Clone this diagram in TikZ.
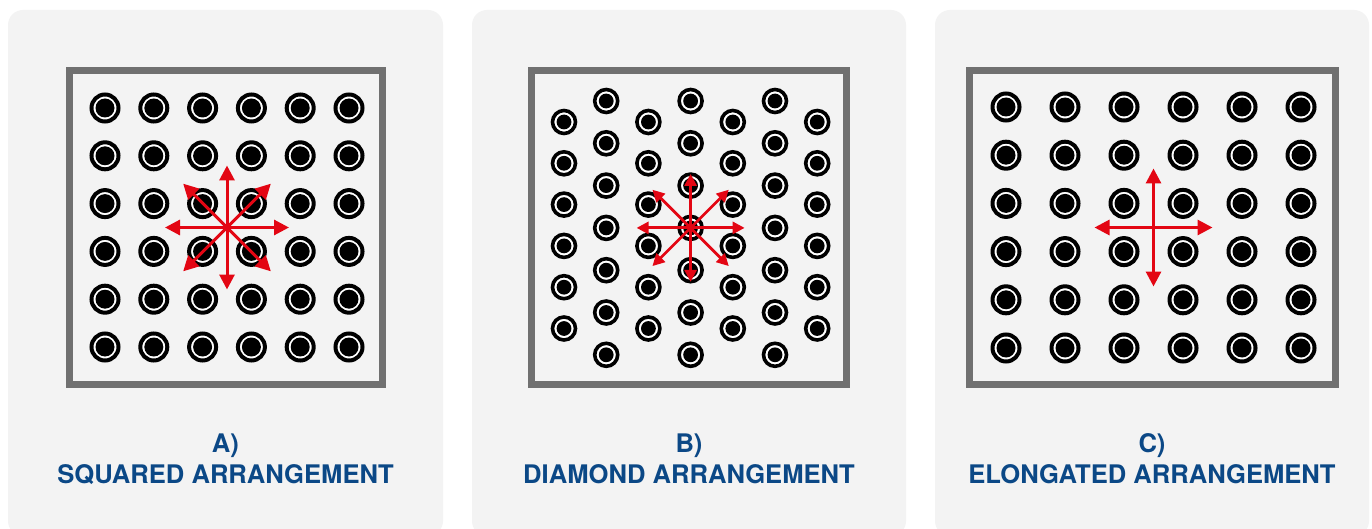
\documentclass[tikz,border=0pt]{standalone}
\usepackage{fontspec}
\setmainfont{TeX Gyre Heros}
\usepackage{xcolor}
\usetikzlibrary{arrows.meta,calc,positioning}

\definecolor{panelgray}{HTML}{F3F3F3}
\definecolor{framegray}{HTML}{707070}
\definecolor{flowred}{HTML}{E30613}
\definecolor{labelblue}{HTML}{0B4886}

\tikzset{
  panel/.style={fill=panelgray, rounded corners=15pt},
  frame/.style={draw=framegray, line width=6.5pt},
  hole/.style={circle, draw=black, line width=4pt, fill=white, inner sep=0pt,
    minimum size=27pt,
    path picture={\fill[black] (path picture bounding box.center) circle (9.5pt);}},
  smallhole/.style={circle, draw=black, line width=3.6pt, fill=white, inner sep=0pt,
    minimum size=23pt,
    path picture={\fill[black] (path picture bounding box.center) circle (7.4pt);}},
  flow/.style={draw=flowred, line width=3pt, -{Triangle[length=15pt,width=15pt]}},
  smallflow/.style={draw=flowred, line width=2.8pt, -{Triangle[length=12pt,width=12pt]}},
  lbl/.style={text=labelblue, font=\bfseries\fontsize{25.6}{30}\selectfont,
    anchor=base, inner sep=0pt}
}

\begin{document}
\begin{tikzpicture}[x=1pt, y=-1pt]
\useasboundingbox[fill=white] (0,0) rectangle (1372,529);

% Panels
\begin{scope}
\clip (0,0) rectangle (1372,529);
\fill[panel] (8,10) rectangle (443,536);
\fill[panel] (472,10) rectangle (906,536);
\fill[panel] (935,10) rectangle (1369,536);
\end{scope}

% Frames
\draw[frame] (69.5,70.5) rectangle (382.5,384.5);
\draw[frame] (531.5,70.5) rectangle (846.5,384.5);
\draw[frame] (969.5,70.5) rectangle (1335.5,384.5);

% A) squared holes
\foreach \i in {0,...,5}
  \foreach \j in {0,...,5}
    \node[hole] (a-\i-\j) at ({105+48.8*\i},{108+47.8*\j}) {};

% B) diamond holes
\foreach \i in {0,2,4,6}
  \foreach \j in {0,...,5}
    \node[smallhole] (b-\i-\j) at ({564+42.2*\i},{122+41.3*\j}) {};
\foreach \i in {1,3,5}
  \foreach \j in {0,...,6}
    \node[smallhole] (b-\i-\j) at ({564+42.2*\i},{101+42.3*\j}) {};

% C) elongated holes
\foreach \i in {0,...,5}
  \foreach \j in {0,...,5}
    \node[hole] (c-\i-\j) at ({1006+59*\i},{107+48.2*\j}) {};

% Flow arrows
\coordinate (ca) at ($(a-2-2)!0.5!(a-3-3)$);
\foreach \a in {0,45,...,315} {
  \coordinate (ca-\a) at ($(ca)+(\a:62)$);
  \draw[flow] (ca) -- (ca-\a);
}

\coordinate (cb) at (b-3-3.center);
\foreach \a in {0,45,...,315} {
  \coordinate (cb-\a) at ($(cb)+(\a:54)$);
  \draw[smallflow] (cb) -- (cb-\a);
}

\coordinate (cc) at ($(c-2-2)!0.5!(c-3-3)$);
\foreach \a in {0,90,180,270} {
  \coordinate (cc-\a) at ($(cc)+(\a:59)$);
  \draw[flow] (cc) -- (cc-\a);
}

% Labels
\node[lbl] (tag-a) at (225.5,452) {A)};
\node[lbl] (name-a) at (225.5,483) {SQUARED ARRANGEMENT};
\node[lbl] (tag-b) at (689,452) {B)};
\node[lbl] (name-b) at (689,483) {DIAMOND ARRANGEMENT};
\node[lbl] (tag-c) at (1152,452) {C)};
\node[lbl] (name-c) at (1152,483) {ELONGATED ARRANGEMENT};

\end{tikzpicture}
\end{document}
